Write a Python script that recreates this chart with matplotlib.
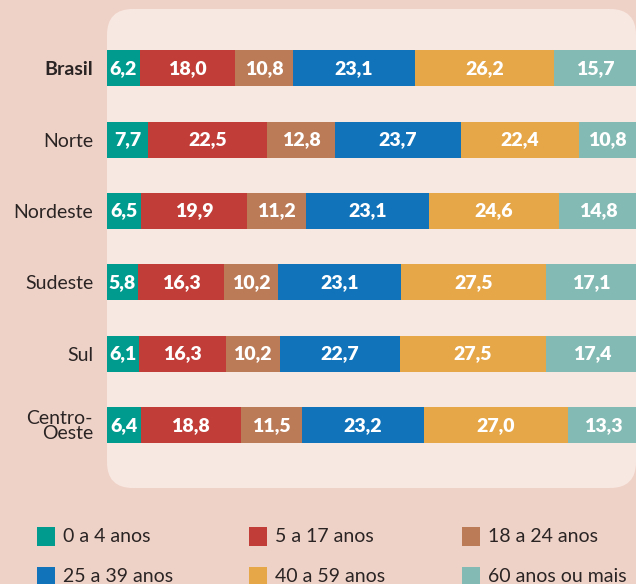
import numpy as np
import matplotlib.pyplot as plt
from matplotlib.patches import FancyBboxPatch, Rectangle

plt.rcParams['font.family'] = ['Lato', 'DejaVu Sans']

regioes = ['Brasil', 'Norte', 'Nordeste', 'Sudeste', 'Sul', 'Centro-\nOeste']
faixas = ['0 a 4 anos', '5 a 17 anos', '18 a 24 anos',
          '25 a 39 anos', '40 a 59 anos', '60 anos ou mais']
cores = ['#009B8F', '#C13D38', '#BC7B57', '#1174BA', '#E6A748', '#83BBB4']

# percentuais por faixa etaria (linhas = regioes)
valores = np.array([
    [6.2, 18.0, 10.8, 23.1, 26.2, 15.7],
    [7.7, 22.5, 12.8, 23.7, 22.4, 10.8],
    [6.5, 19.9, 11.2, 23.1, 24.6, 14.8],
    [5.8, 16.3, 10.2, 23.1, 27.5, 17.1],
    [6.1, 16.3, 10.2, 22.7, 27.5, 17.4],
    [6.4, 18.8, 11.5, 23.2, 27.0, 13.3],
])

W, H = 636, 584
fig = plt.figure(figsize=(W / 100, H / 100), dpi=100)
fig.patch.set_facecolor('#EFD2C7')

# painel claro com cantos arredondados
painel = FancyBboxPatch((1.07, (H - 488) / 100), 5.29, 4.79,
                        boxstyle='round,pad=0,rounding_size=0.26',
                        transform=fig.dpi_scale_trans,
                        facecolor='#F8E8E2', edgecolor='none', zorder=-5)
fig.patches.append(painel)

ax = fig.add_axes([107 / W, (H - 488) / H, 530 / W, 479 / H])
ax.set_facecolor('none')
ax.set_zorder(2)

y = np.arange(len(regioes))
esq = np.zeros(len(regioes))
for j in range(len(faixas)):
    ax.barh(y, valores[:, j], left=esq, height=0.505, color=cores[j],
            edgecolor='none', zorder=2)
    for i in range(len(regioes)):
        ax.text(esq[i] + valores[i, j] / 2, y[i],
                f'{valores[i, j]:.1f}'.replace('.', ','),
                ha='center', va='center', color='white',
                fontsize=14, fontweight='heavy', zorder=3)
    esq += valores[:, j]

ax.set_xlim(0, 100)
ax.set_ylim(len(regioes) - 1 + 0.88, -0.83)
ax.set_xticks([])
ax.set_yticks(y)
ax.set_yticklabels(regioes, fontsize=14, color='#2A2424',
                   multialignment='right', linespacing=0.9)
ax.get_yticklabels()[0].set_fontweight('bold')
ax.tick_params(axis='y', length=0, pad=10)
for s in ax.spines.values():
    s.set_visible(False)

# legenda manual em duas linhas de tres colunas
col_x = [37, 249, 462]
lin_y = [536, 576]
for k, (nome, cor) in enumerate(zip(faixas, cores)):
    cx = col_x[k % 3]
    cy = lin_y[k // 3]
    fig.patches.append(Rectangle((cx / W, (H - cy - 9.5) / H), 18 / W, 19 / H,
                                 transform=fig.transFigure, facecolor=cor,
                                 edgecolor='none'))
    fig.text((cx + 26) / W, (H - cy) / H, nome, ha='left', va='center',
             fontsize=14, color='#2A2424')

fig.savefig('out.png', dpi=100, facecolor=fig.get_facecolor())
